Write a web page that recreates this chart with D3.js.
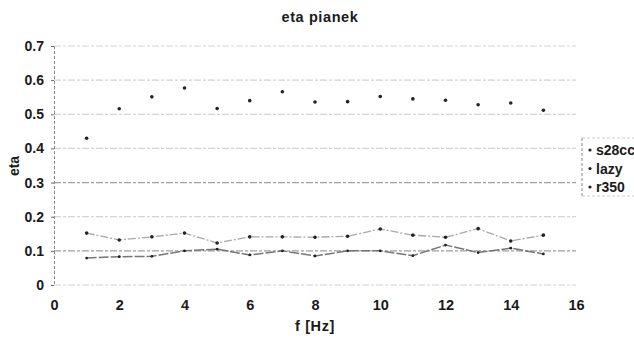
<!DOCTYPE html>
<html>
<head>
<meta charset="utf-8">
<script src="https://cdn.jsdelivr.net/npm/d3@7"></script>
<style>
  body { margin: 0; background: #fff; }
  svg { font-family: Arial, "Liberation Sans", sans-serif; }
</style>
</head>
<body>
<svg id="chart" width="634" height="338"></svg>
<script>
// --- data ---
const freqs = [1, 2, 3, 4, 5, 6, 7, 8, 9, 10, 11, 12, 13, 14, 15];
const s28cc = [0.43, 0.516, 0.551, 0.577, 0.517, 0.54, 0.566, 0.536, 0.537, 0.552, 0.545, 0.541, 0.528, 0.533, 0.512];
const lazy  = [0.152, 0.132, 0.141, 0.152, 0.123, 0.141, 0.141, 0.14, 0.143, 0.164, 0.146, 0.14, 0.165, 0.129, 0.146];
const r350  = [0.079, 0.083, 0.084, 0.1, 0.105, 0.088, 0.1, 0.085, 0.1, 0.1, 0.086, 0.117, 0.095, 0.108, 0.091];
const seriesNames = ['s28cc', 'lazy', 'r350'];
const xTicks = [0, 2, 4, 6, 8, 10, 12, 14, 16];
const yTicks = [0, 0.1, 0.2, 0.3, 0.4, 0.5, 0.6, 0.7];

const svg = d3.select('#chart');
const margin = { left: 54, right: 58, top: 46, bottom: 53 };
const width = 634, height = 338;

const x = d3.scaleLinear().domain([0, 16]).range([margin.left, width - margin.right]);
const y = d3.scaleLinear().domain([0, 0.7]).range([height - margin.bottom, margin.top]);

const ink = '#1a1a1a';

// gridlines
svg.append('g')
  .selectAll('line')
  .data(yTicks)
  .join('line')
  .attr('x1', x(0)).attr('x2', x(16))
  .attr('y1', d => y(d)).attr('y2', d => y(d))
  .attr('stroke', d => d === 0.3 || d === 0.1 ? '#a0a0a0' : '#d4d4d4')
  .attr('stroke-width', 1.2)
  .attr('stroke-dasharray', '7,2,3,2');

// y axis (dashed vertical)
const yAxis = svg.append('g')
  .attr('transform', `translate(${x(0)},0)`)
  .call(d3.axisLeft(y).tickValues(yTicks).tickSize(3).tickPadding(7)
    .tickFormat(d => d === 0 ? '0' : d3.format('.1f')(d)));
yAxis.select('.domain').attr('stroke', '#888').attr('stroke-dasharray', '3,2');
yAxis.selectAll('.tick line').attr('stroke', '#666');
yAxis.selectAll('text').attr('font-size', 14).attr('font-weight', 'bold').attr('fill', ink);

// x axis labels
const xAxis = svg.append('g')
  .attr('transform', `translate(0,${y(0)})`)
  .call(d3.axisBottom(x).tickValues(xTicks).tickSize(0).tickPadding(15));
xAxis.select('.domain').remove();
xAxis.selectAll('text').attr('font-size', 14.5).attr('font-weight', 'bold').attr('fill', ink);

// lines
const line = d3.line().x((d, i) => x(freqs[i])).y(d => y(d));
svg.append('path').datum(lazy).attr('d', line)
  .attr('fill', 'none').attr('stroke', '#a8a8a8').attr('stroke-width', 1.3)
  .attr('stroke-dasharray', '8,2,2,2');
svg.append('path').datum(r350).attr('d', line)
  .attr('fill', 'none').attr('stroke', '#767676').attr('stroke-width', 1.5)
  .attr('stroke-dasharray', '10,2');

// markers
[s28cc, lazy, r350].forEach((vals, k) => {
  svg.append('g')
    .selectAll('circle')
    .data(vals)
    .join('circle')
    .attr('cx', (d, i) => x(freqs[i]))
    .attr('cy', d => y(d))
    .attr('r', k === 2 ? 1.4 : 1.8)
    .attr('fill', '#222');
});

// title and axis titles
svg.append('text').attr('x', 320).attr('y', 22).attr('text-anchor', 'middle')
  .attr('font-size', 14.5).attr('font-weight', 'bold').attr('letter-spacing', 0.6)
  .attr('fill', ink).text('eta pianek');
svg.append('text').attr('transform', 'translate(19,166) rotate(-90)').attr('text-anchor', 'middle')
  .attr('font-size', 14).attr('font-weight', 'bold').attr('fill', ink).text('eta');
svg.append('text').attr('x', 315).attr('y', 331).attr('text-anchor', 'middle')
  .attr('font-size', 14.5).attr('font-weight', 'bold').attr('letter-spacing', 0.6)
  .attr('fill', ink).text('f [Hz]');

// legend
const lg = svg.append('g').attr('transform', 'translate(582,138)');
lg.append('line').attr('x1', 0).attr('x2', 0).attr('y1', 0).attr('y2', 58)
  .attr('stroke', '#888').attr('stroke-dasharray', '3,2');
lg.append('line').attr('x1', 0).attr('x2', 52).attr('y1', 0).attr('y2', 0)
  .attr('stroke', '#ccc').attr('stroke-dasharray', '3,2');
lg.append('line').attr('x1', 0).attr('x2', 52).attr('y1', 58).attr('y2', 58)
  .attr('stroke', '#ccc').attr('stroke-dasharray', '3,2');
seriesNames.forEach((name, i) => {
  const gy = 12 + i * 18.5;
  lg.append('circle').attr('cx', 8).attr('cy', gy).attr('r', 1.6).attr('fill', '#222');
  lg.append('text').attr('x', 14).attr('y', gy + 5)
    .attr('font-size', 14).attr('font-weight', 'bold').attr('fill', ink).text(name);
});
</script>
</body>
</html>
